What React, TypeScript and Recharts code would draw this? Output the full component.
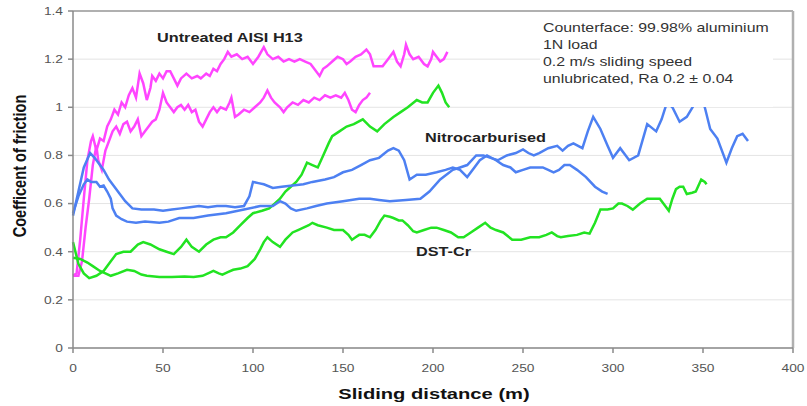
import { LineChart, Line, XAxis, YAxis, CartesianGrid, ReferenceLine } from "recharts";

// [sliding distance (m), coefficient of friction]
const untreatedUpper: [number, number][] = [
  [0, 0.3], [2, 0.31], [4, 0.45], [6, 0.62], [8, 0.78], [10, 0.86], [11, 0.88], [13, 0.82], [15, 0.87],
  [17, 0.86], [19, 0.92], [21, 0.95], [23, 0.99], [25, 0.97], [27, 1.02], [29, 1.0], [31, 1.05], [33, 1.08],
  [35, 1.04], [37, 1.14], [39, 1.1], [41, 1.03], [43, 1.08], [44, 1.13], [46, 1.11], [48, 1.14], [50, 1.12],
  [52, 1.15], [54, 1.15], [56, 1.12], [58, 1.09], [60, 1.12], [63, 1.14], [66, 1.12], [69, 1.13], [71, 1.12],
  [74, 1.14], [76, 1.13], [78, 1.16], [80, 1.15], [82, 1.18], [84, 1.2], [86, 1.23], [88, 1.21], [91, 1.22],
  [94, 1.2], [97, 1.21], [100, 1.18], [103, 1.21], [106, 1.25], [108, 1.22], [111, 1.2], [114, 1.21],
  [117, 1.19], [120, 1.2], [123, 1.19], [126, 1.2], [129, 1.19], [132, 1.18], [134, 1.16], [137, 1.13],
  [139, 1.16], [141, 1.17], [144, 1.19], [147, 1.21], [150, 1.2], [152, 1.18], [154, 1.19], [157, 1.21],
  [160, 1.22], [163, 1.24], [165, 1.22], [167, 1.17], [170, 1.17], [172, 1.17], [175, 1.2], [178, 1.23],
  [180, 1.19], [182, 1.17], [184, 1.22], [185, 1.26], [187, 1.22], [189, 1.2], [192, 1.21], [195, 1.18],
  [197, 1.17], [199, 1.2], [200, 1.23], [202, 1.21], [204, 1.19], [206, 1.2], [208, 1.23],
];

const untreatedLower: [number, number][] = [
  [0, 0.3], [3, 0.3], [5, 0.36], [7, 0.5], [9, 0.62], [11, 0.76], [13, 0.84], [14, 0.78], [16, 0.74],
  [18, 0.82], [20, 0.86], [22, 0.9], [24, 0.92], [26, 0.89], [28, 0.93], [30, 0.94], [32, 0.9], [34, 0.92],
  [36, 0.95], [38, 0.88], [40, 0.9], [42, 0.92], [44, 0.94], [46, 0.95], [48, 0.99], [50, 1.06], [52, 1.02],
  [54, 1.0], [56, 0.98], [58, 1.0], [60, 1.01], [62, 0.99], [64, 1.01], [66, 0.98], [68, 0.99], [70, 0.94],
  [72, 0.92], [74, 0.95], [76, 0.98], [78, 1.0], [80, 0.98], [82, 1.0], [85, 0.99], [87, 1.02], [88, 1.04],
  [90, 0.96], [92, 0.97], [95, 0.99], [98, 0.98], [101, 1.0], [104, 1.02], [106, 1.04], [108, 1.07],
  [110, 1.04], [112, 1.02], [115, 1.0], [117, 0.98], [119, 1.0], [122, 1.02], [125, 1.01], [128, 1.03],
  [131, 1.02], [134, 1.04], [137, 1.03], [140, 1.05], [143, 1.04], [146, 1.05], [149, 1.04], [151, 1.06],
  [153, 1.03], [155, 0.99], [157, 0.98], [159, 1.01], [161, 1.03], [163, 1.04], [165, 1.06],
];

const nitroLong: [number, number][] = [
  [0, 0.56], [3, 0.63], [6, 0.68], [8, 0.7], [10, 0.69], [13, 0.69], [15, 0.67], [17, 0.675], [19, 0.65],
  [21, 0.62], [22, 0.58], [24, 0.55], [27, 0.535], [30, 0.525], [35, 0.52], [40, 0.525], [48, 0.52],
  [53, 0.525], [59, 0.54], [67, 0.54], [75, 0.55], [85, 0.56], [95, 0.575], [104, 0.59], [111, 0.59],
  [115, 0.61], [118, 0.6], [121, 0.58], [124, 0.57], [130, 0.58], [135, 0.59], [141, 0.6], [150, 0.61],
  [159, 0.62], [165, 0.62], [170, 0.615], [176, 0.61], [185, 0.615], [193, 0.62], [198, 0.65], [204, 0.7],
  [211, 0.74], [215, 0.75], [219, 0.76], [224, 0.8], [228, 0.8], [232, 0.79], [236, 0.78], [241, 0.8],
  [246, 0.81], [250, 0.825], [253, 0.81], [256, 0.8], [259, 0.81], [264, 0.83], [269, 0.84], [272, 0.82],
  [275, 0.84], [278, 0.85], [283, 0.83], [286, 0.9], [289, 0.96], [293, 0.91], [297, 0.84], [300, 0.79],
  [304, 0.83], [309, 0.78], [314, 0.8], [319, 0.93], [324, 0.9], [327, 0.95], [330, 1.02], [333, 1.0],
  [337, 0.94], [341, 0.96], [345, 1.01], [348, 1.05], [351, 1.0], [354, 0.91], [358, 0.87], [363, 0.77],
  [366, 0.83], [369, 0.88], [372, 0.89], [375, 0.86],
];

const nitroShort: [number, number][] = [
  [0, 0.55], [3, 0.65], [6, 0.75], [9.5, 0.81], [12, 0.79], [15, 0.76], [17, 0.74], [20, 0.7], [23, 0.67],
  [26, 0.64], [29, 0.61], [33, 0.58], [38, 0.575], [45, 0.575], [50, 0.57], [55, 0.575], [60, 0.58],
  [65, 0.585], [70, 0.59], [75, 0.585], [80, 0.59], [85, 0.59], [90, 0.585], [95, 0.59], [98, 0.63],
  [100, 0.69], [103, 0.685], [106, 0.68], [111, 0.665], [116, 0.67], [122, 0.675], [128, 0.68], [133, 0.69],
  [140, 0.7], [145, 0.71], [150, 0.73], [155, 0.74], [160, 0.76], [165, 0.78], [170, 0.79], [175, 0.82],
  [178, 0.83], [181, 0.82], [184, 0.78], [187, 0.7], [191, 0.72], [196, 0.72], [202, 0.73], [207, 0.74],
  [211, 0.75], [215, 0.74], [219, 0.71], [223, 0.75], [226, 0.78], [230, 0.8], [235, 0.78], [239, 0.76],
  [243, 0.75], [246, 0.73], [250, 0.74], [254, 0.75], [258, 0.75], [261, 0.75], [264, 0.74], [267, 0.73],
  [270, 0.74], [273, 0.76], [276, 0.76], [280, 0.74], [285, 0.71], [290, 0.67], [294, 0.65], [297, 0.64],
];

const dstShort: [number, number][] = [
  [0, 0.44], [3, 0.35], [6, 0.31], [9, 0.29], [13, 0.3], [17, 0.32], [21, 0.36], [24, 0.39], [28, 0.4],
  [32, 0.4], [36, 0.43], [39, 0.44], [43, 0.43], [48, 0.41], [52, 0.4], [56, 0.39], [60, 0.42], [63, 0.45],
  [66, 0.42], [70, 0.4], [74, 0.43], [78, 0.45], [82, 0.46], [85, 0.46], [89, 0.48], [93, 0.51], [97, 0.54],
  [100, 0.56], [105, 0.57], [109, 0.58], [112, 0.6], [115, 0.62], [118, 0.65], [121, 0.67], [124, 0.69],
  [127, 0.72], [130, 0.77], [133, 0.76], [136, 0.75], [139, 0.8], [142, 0.85], [144, 0.88], [148, 0.9],
  [152, 0.92], [156, 0.93], [161, 0.95], [165, 0.92], [169, 0.9], [173, 0.93], [178, 0.96], [182, 0.98],
  [186, 1.0], [191, 1.03], [194, 1.02], [197, 1.02], [200, 1.06], [203, 1.09], [205, 1.06], [207, 1.02],
  [209, 1.0],
];

const dstLong: [number, number][] = [
  [0, 0.375], [4, 0.37], [8, 0.355], [11, 0.34], [15, 0.32], [18, 0.31], [21, 0.3], [25, 0.31], [30, 0.325],
  [34, 0.32], [38, 0.305], [41, 0.3], [48, 0.295], [55, 0.295], [62, 0.297], [67, 0.295], [72, 0.3],
  [75, 0.31], [78, 0.32], [81, 0.31], [83, 0.305], [86, 0.315], [89, 0.325], [93, 0.33], [97, 0.34],
  [101, 0.37], [104, 0.41], [106, 0.44], [108, 0.46], [111, 0.44], [115, 0.42], [118, 0.45], [122, 0.48],
  [125, 0.49], [128, 0.5], [131, 0.51], [133, 0.52], [136, 0.51], [141, 0.5], [145, 0.49], [150, 0.49],
  [153, 0.47], [155, 0.45], [157, 0.46], [159, 0.47], [162, 0.47], [165, 0.46], [168, 0.49], [171, 0.53],
  [173, 0.55], [176, 0.545], [178, 0.54], [181, 0.53], [183, 0.53], [186, 0.51], [189, 0.485], [191, 0.48],
  [195, 0.49], [199, 0.5], [202, 0.5], [206, 0.49], [210, 0.48], [214, 0.46], [217, 0.46], [221, 0.48],
  [225, 0.5], [229, 0.52], [232, 0.5], [235, 0.49], [239, 0.48], [244, 0.45], [249, 0.45], [254, 0.46],
  [259, 0.46], [263, 0.47], [266, 0.48], [269, 0.465], [271, 0.46], [275, 0.465], [280, 0.47], [284, 0.48],
  [287, 0.475], [290, 0.52], [293, 0.575], [297, 0.575], [300, 0.58], [303, 0.6], [305, 0.6], [308, 0.59],
  [311, 0.575], [315, 0.6], [319, 0.62], [323, 0.62], [326, 0.62], [328, 0.6], [331, 0.57], [333, 0.62],
  [335, 0.66], [337, 0.67], [339, 0.67], [341, 0.64], [344, 0.645], [346, 0.65], [349, 0.7], [351, 0.69],
  [352, 0.68],
];

const xTicks = [0, 50, 100, 150, 200, 250, 300, 350, 400];
const yTicks = [0, 0.2, 0.4, 0.6, 0.8, 1, 1.2, 1.4];

const notes = [
  "Counterface: 99.98% aluminium",
  "1N load",
  "0.2 m/s sliding speed",
  "unlubricated, Ra 0.2 \u00b1 0.04",
];

const toRows = (pts: [number, number][]) => pts.map(([x, y]) => ({ x, y }));

const FONT = "'Liberation Sans', Arial, sans-serif";
const STRETCH = 1.25;

const XTick = ({ x, y, payload }: any) => (
  <g transform={`translate(${x},${y}) scale(${STRETCH},1)`}>
    <text textAnchor="middle" dy={17} fontSize={11} fill="#555" fontFamily={FONT}>
      {payload.value}
    </text>
  </g>
);

const YTick = ({ y, payload }: any) => (
  <g transform={`translate(63,${y}) scale(${STRETCH},1)`}>
    <text textAnchor="end" dy={3.9} fontSize={11} fill="#555" fontFamily={FONT}>
      {String(Number(payload.value.toFixed(1)))}
    </text>
  </g>
);

const label = (text: string, left: number, top: number) => (
  <div
    style={{
      position: "absolute",
      left,
      top,
      fontSize: 13,
      lineHeight: "13px",
      fontWeight: "bold",
      color: "#222",
      whiteSpace: "nowrap",
      transform: `scaleX(${STRETCH})`,
      transformOrigin: "left top",
    }}
  >
    {text}
  </div>
);

export default function App() {
  const magenta = "#ff45ff";
  const blue = "#4d80f2";
  const green = "#22e322";
  const w = 2.5;

  // fixed at the page corner so the body margin adds no scrollbar
  return (
    <div style={{ position: "fixed", left: 0, top: 0, width: 807, height: 406, fontFamily: FONT, background: "#fff" }}>
      <LineChart width={807} height={406} margin={{ top: 11, right: 14, left: 0, bottom: 0 }}>
        <CartesianGrid vertical={false} stroke="#e4e4e4" />
        <XAxis
          type="number"
          dataKey="x"
          domain={[0, 400]}
          ticks={xTicks}
          height={58}
          stroke="#8a8a8a"
          strokeWidth={1.5}
          tickSize={5}
          tick={<XTick />}
        />
        <YAxis
          type="number"
          domain={[0, 1.4]}
          ticks={yTicks}
          width={73}
          stroke="#8a8a8a"
          strokeWidth={1.5}
          tickSize={5}
          tick={<YTick />}
        />
        <ReferenceLine y={1.4} stroke="#9a9a9a" strokeWidth={1.5} />
        <ReferenceLine x={400} stroke="#b0b0b0" strokeWidth={2.5} />
        <Line data={toRows(untreatedUpper)} dataKey="y" stroke={magenta} strokeWidth={w} dot={false} isAnimationActive={false} />
        <Line data={toRows(untreatedLower)} dataKey="y" stroke={magenta} strokeWidth={w} dot={false} isAnimationActive={false} />
        <Line data={toRows(dstShort)} dataKey="y" stroke={green} strokeWidth={w} dot={false} isAnimationActive={false} />
        <Line data={toRows(dstLong)} dataKey="y" stroke={green} strokeWidth={w} dot={false} isAnimationActive={false} />
        <Line data={toRows(nitroLong)} dataKey="y" stroke={blue} strokeWidth={w} dot={false} isAnimationActive={false} />
        <Line data={toRows(nitroShort)} dataKey="y" stroke={blue} strokeWidth={w} dot={false} isAnimationActive={false} />
      </LineChart>

      {/* white note box sits over the plot, hiding the grid line and the clipped peaks */}
      <div style={{ position: "absolute", left: 540, top: 14, width: 233, height: 92.5, background: "#fff" }}>
        {notes.map((n, i) => (
          <div
            key={n}
            style={{
              position: "absolute",
              left: 3,
              top: 5.6 + i * 17,
              fontSize: 12.7,
              lineHeight: "17px",
              color: "#333",
              whiteSpace: "nowrap",
              transform: `scaleX(${STRETCH})`,
              transformOrigin: "left top",
            }}
          >
            {n}
          </div>
        ))}
      </div>

      {label("Untreated AISI H13", 157, 31.2)}
      {label("Nitrocarburised", 425, 130.7)}
      {label("DST-Cr", 416, 244.7)}

      <div
        style={{
          position: "absolute",
          left: 19.5 - 100,
          top: 166 - 10,
          width: 200,
          height: 20,
          lineHeight: "20px",
          textAlign: "center",
          fontSize: 14.6,
          fontWeight: "bold",
          color: "#111",
          transform: `rotate(-90deg) scaleY(${STRETCH})`,
          whiteSpace: "nowrap",
        }}
      >
        Coefficent of friction
      </div>
      <div
        style={{
          position: "absolute",
          left: 433.5 - 150,
          top: 386.4,
          width: 300,
          textAlign: "center",
          fontSize: 15.5,
          lineHeight: "15.5px",
          fontWeight: "bold",
          color: "#111",
          transform: `scaleX(1.3)`,
          whiteSpace: "nowrap",
        }}
      >
        Sliding distance (m)
      </div>
    </div>
  );
}
